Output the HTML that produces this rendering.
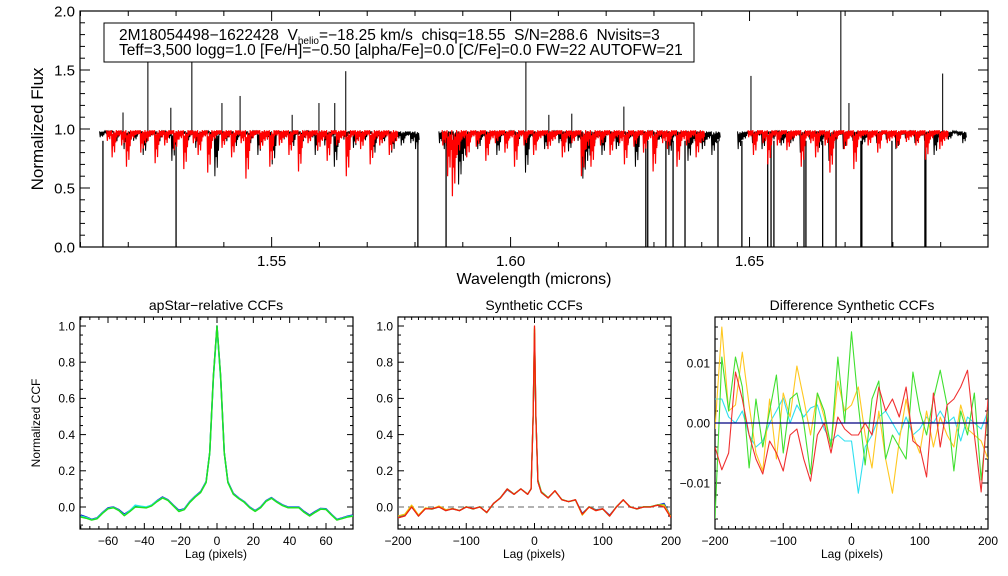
<!DOCTYPE html>
<html><head><meta charset="utf-8">
<style>
html,body{margin:0;padding:0;background:#fff;}
svg{display:block;font-family:"Liberation Sans",Arial,sans-serif;}
</style></head>
<body>
<svg id="fig" width="1008" height="576" viewBox="0 0 1008 576" xmlns="http://www.w3.org/2000/svg">
<rect width="1008" height="576" fill="#fff"/>
</svg>
<script>
// ---------- DATA: spectrum ----------
const chip1Start = 1.5145, chip2Start = 1.5855, chip3Start = 1.6480;
const chip1Black = [0.95,0.99,1.0,0.9,0.97,0.85,0.96,0.92,0.98,0.8,0.95,0.97,0.9,0.99,0.93,0.75,0.96,0.98,0.91,0.97,0.86,0.95,0.99,0.94,0.62,0.97,0.9,0.98,0.85,0.95,0.97,0.88,0.99,0.8,0.96,0.93,0.72,0.98,0.92,0.96,0.85,0.97,0.9,0.99,0.94,0.8,0.96,0.88,0.95,0.7,0.97,0.93,0.98,0.86,0.95,0.91,0.98,0.78,0.94,0.9,0.97,0.82,0.93,0.88,0.96,0.9,0.85];
const chip2Black = [0.9,0.85,0.96,0.8,0.55,0.75,0.92,0.97,0.85,0.95,0.9,0.98,0.8,0.96,0.93,0.99,0.87,0.97,0.65,0.95,0.9,0.98,0.85,0.94,0.99,0.9,0.96,0.83,0.97,0.92,0.6,0.75,0.88,0.95,0.8,0.97,0.9,0.85,0.98,0.88,0.95,0.7,0.97,0.9,0.99,0.85,0.93,0.96,0.8,0.95,0.92,0.98,0.75,0.9,0.95,0.85,0.93,0.8,0.9];
const chip3Black = [0.85,0.93,0.98,0.9,0.96,0.85,0.97,0.92,0.99,0.88,0.95,0.9,0.97,0.82,0.96,0.93,0.98,0.86,0.95,0.75,0.9,0.97,0.85,0.96,0.92,0.98,0.89,0.95,0.97,0.9,0.98,0.93,0.96,0.85,0.97,0.94,0.99,0.9,0.96,0.92,0.98,0.8,0.95,0.97,0.93,0.99,0.96,0.9];
const red1Start = 1.5160, red2Start = 1.5862, red3Start = 1.6502;
const chip1Red = [0.92,0.78,0.95,0.88,0.7,0.93,0.97,0.82,0.9,0.96,0.73,0.94,0.88,0.97,0.84,0.93,0.68,0.96,0.9,0.8,0.95,0.65,0.92,0.97,0.86,0.94,0.78,0.96,0.9,0.6,0.93,0.97,0.85,0.92,0.7,0.96,0.88,0.94,0.8,0.97,0.66,0.93,0.9,0.96,0.84,0.92,0.75,0.97,0.88,0.94,0.62,0.95,0.9,0.85,0.96,0.72,0.93,0.88,0.95,0.8,0.9];
const chip2Red = [0.88,0.62,0.45,0.8,0.93,0.78,0.95,0.87,0.97,0.75,0.93,0.9,0.96,0.82,0.94,0.7,0.95,0.88,0.97,0.8,0.93,0.96,0.85,0.92,0.97,0.78,0.94,0.9,0.96,0.62,0.85,0.7,0.93,0.88,0.96,0.8,0.94,0.9,0.72,0.95,0.87,0.96,0.82,0.93,0.66,0.95,0.9,0.85,0.96,0.7,0.92,0.88,0.95,0.78,0.9];
const chip3Red = [0.95,0.8,0.97,0.9,0.72,0.95,0.88,0.97,0.84,0.93,0.96,0.7,0.94,0.9,0.78,0.96,0.88,0.65,0.92,0.97,0.85,0.94,0.68,0.93,0.96,0.88,0.95,0.82,0.97,0.9,0.94,0.86,0.97,0.91,0.95,0.88,0.96,0.76,0.93,0.97,0.85,0.92];
const deepLines = [1.5147,1.5300,1.5806,1.5865,1.6283,1.6287,1.6325,1.6340,1.6365,1.6434,1.6484,1.6538,1.6545,1.6551,1.6614,1.6618,1.6653,1.6681,1.6733,1.6735,1.6798,1.6867,1.6869];
const spikeWaves = [1.5189,1.5241,1.5289,1.5333,1.5396,1.5434,1.5543,1.5599,1.5632,1.5655,1.6032,1.6080,1.6128,1.6237,1.6503,1.6691,1.6708,1.6904];
const spikeVals  = [1.14,1.70,1.18,1.62,1.22,1.28,1.12,1.22,1.22,1.49,1.65,1.12,1.13,1.19,1.45,2.0,1.22,1.47];

// ---------- DATA: apStar-relative CCFs ----------
const apLags = [-75,-72,-69,-66,-63,-60,-57,-54,-51,-48,-45,-42,-39,-36,-33,-30,-27,-24,-21,-18,-15,-12,-9,-6,-4,-2,0,2,4,6,9,12,15,18,21,24,27,30,33,36,39,42,45,48,51,54,57,60,63,66,69,72,75];
const apBlue  = [-0.045,-0.055,-0.068,-0.06,-0.03,-0.005,0.0,-0.015,-0.04,-0.02,0.005,0.002,-0.002,0.01,0.035,0.055,0.04,0.01,-0.018,-0.01,0.03,0.06,0.085,0.14,0.3,0.72,1.0,0.72,0.3,0.14,0.075,0.05,0.03,0.0,-0.02,0.0,0.035,0.052,0.03,0.012,0.0,0.0,0.0,-0.025,-0.045,-0.025,-0.008,-0.01,-0.04,-0.068,-0.06,-0.05,-0.045];
const apCyan  = [-0.05,-0.058,-0.07,-0.062,-0.032,-0.008,-0.002,-0.018,-0.045,-0.02,0.01,0.004,0.0,0.01,0.033,0.052,0.038,0.008,-0.022,-0.012,0.028,0.058,0.082,0.138,0.3,0.71,0.99,0.71,0.3,0.138,0.072,0.048,0.028,-0.002,-0.022,-0.002,0.033,0.05,0.028,0.01,-0.002,-0.002,-0.002,-0.028,-0.048,-0.028,-0.01,-0.012,-0.042,-0.07,-0.062,-0.052,-0.048];
const apGreen = [-0.055,-0.062,-0.072,-0.065,-0.035,-0.01,-0.004,-0.02,-0.048,-0.025,0.0,-0.002,-0.005,0.006,0.03,0.05,0.036,0.006,-0.025,-0.015,0.025,0.055,0.08,0.135,0.3,0.72,1.0,0.72,0.3,0.135,0.07,0.046,0.026,-0.004,-0.024,-0.004,0.031,0.048,0.026,0.008,-0.004,-0.004,-0.004,-0.03,-0.05,-0.03,-0.012,-0.014,-0.044,-0.072,-0.064,-0.055,-0.05];

// ---------- DATA: synthetic CCFs ----------
const synLags = [-200,-190,-180,-170,-160,-150,-140,-130,-120,-110,-100,-90,-80,-70,-60,-50,-40,-30,-20,-10,-5,-2,0,2,5,10,20,30,40,50,60,70,80,90,100,110,120,130,140,150,160,170,180,190,200];
const synBlue   = [-0.055,-0.045,0.0,-0.045,-0.01,-0.01,0.0,-0.015,-0.01,-0.02,0.0,-0.01,0.0,-0.03,0.02,0.05,0.095,0.07,0.1,0.07,0.1,0.5,0.96,0.5,0.14,0.08,0.05,0.09,0.04,0.03,0.04,-0.035,0.0,-0.015,-0.01,-0.045,0.0,0.04,0.0,-0.01,0.0,0.0,0.01,0.02,-0.055];
const synGreen  = [-0.06,-0.048,0.005,-0.05,-0.008,-0.012,0.002,-0.02,-0.008,-0.02,0.002,-0.012,0.002,-0.032,0.018,0.052,0.1,0.072,0.1,0.072,0.1,0.5,0.98,0.5,0.15,0.085,0.052,0.088,0.042,0.03,0.038,-0.04,0.002,-0.018,-0.012,-0.05,0.002,0.038,0.002,-0.012,0.002,0.002,0.012,0.012,-0.06];
const synYellow = [-0.05,-0.04,0.01,-0.045,-0.005,-0.01,0.005,-0.015,-0.01,-0.02,0.0,-0.01,0.0,-0.03,0.02,0.05,0.098,0.07,0.1,0.07,0.1,0.5,0.99,0.5,0.14,0.08,0.05,0.09,0.04,0.03,0.04,-0.045,0.0,-0.02,-0.01,-0.05,0.0,0.04,0.0,-0.01,0.0,0.0,0.01,0.01,-0.055];
const synRed    = [-0.06,-0.05,0.0,-0.05,-0.01,-0.01,0.0,-0.02,-0.01,-0.02,0.0,-0.01,0.0,-0.03,0.02,0.05,0.1,0.07,0.1,0.07,0.1,0.5,1.0,0.5,0.14,0.08,0.05,0.09,0.04,0.03,0.04,-0.04,0.0,-0.02,-0.01,-0.05,0.0,0.04,0.0,-0.01,0.0,0.0,0.01,0.0,-0.06];

// ---------- DATA: difference CCFs ----------
const difLags = [-200,-190,-180,-170,-160,-150,-140,-130,-120,-110,-100,-90,-80,-70,-60,-50,-40,-30,-20,-10,0,10,20,30,40,50,60,70,80,90,100,110,120,130,140,150,160,170,180,190,200];
const difCyan   = [0.004,0.004,0.001,0.0,0.002,-0.002,-0.004,-0.003,0.0,0.002,0.0042,0.0,0.003,0.001,0.0025,0.003,-0.001,-0.003,-0.002,-0.003,-0.003,-0.0117,-0.004,-0.002,0.001,0.002,0.0,-0.002,0.001,-0.002,-0.001,0.001,0.0,0.002,0.0,0.001,-0.003,0.001,0.0,-0.001,0.002];
const difYellow = [-0.001,0.016,0.002,0.003,0.0118,0.003,-0.005,-0.008,0.004,-0.006,0.005,0.001,0.0095,0.004,-0.002,0.005,0.001,-0.004,0.007,0.002,0.003,0.006,-0.002,-0.0075,0.002,-0.006,-0.0117,-0.003,0.004,-0.002,-0.005,0.002,-0.004,0.001,-0.002,-0.004,0.003,-0.001,-0.002,-0.003,-0.006];
const difGreen  = [-0.016,0.011,0.002,0.011,0.006,-0.0075,0.004,-0.004,0.002,0.008,-0.005,0.004,0.005,0.0,-0.0085,0.005,0.002,-0.004,0.011,0.0,0.0152,0.003,-0.007,0.004,0.007,-0.006,-0.002,-0.004,-0.006,0.0085,0.002,-0.002,0.004,0.0088,0.003,-0.008,0.002,-0.002,0.005,-0.0095,0.002];
const difRed    = [-0.004,-0.0078,-0.005,0.0085,0.004,-0.002,-0.006,-0.0085,-0.003,-0.005,-0.008,-0.002,-0.001,-0.006,-0.0097,-0.002,0.0,-0.005,0.001,-0.001,-0.002,-0.002,0.0,-0.002,0.006,0.002,0.004,0.001,0.006,-0.003,-0.004,-0.009,0.005,-0.004,0.003,0.004,0.006,0.0088,-0.002,-0.0115,0.004];

// ---------- drawing helpers ----------
const NS = "http://www.w3.org/2000/svg";
const svg = document.getElementById('fig');
function mk(tag, attrs, parent){
  const e = document.createElementNS(NS, tag);
  for (const k in attrs) e.setAttribute(k, attrs[k]);
  (parent||svg).appendChild(e);
  return e;
}
function lin(d0,d1,r0,r1){ return v => r0 + (v-d0)*(r1-r0)/(d1-d0); }

function axes(box, xs, ys, xmaj, xmin, ymaj, ymin, xfmt, yfmt, fs, majLen, minLen, showYLabels){
  const g = mk('g', {});
  
  
  mk('rect', {x:box.x0, y:box.y0, width:box.x1-box.x0, height:box.y1-box.y0, fill:'none', stroke:'#000', 'stroke-width':1.2}, g);
  const eps = 1e-9;
  for (let v = Math.ceil(box.dx0/xmin - eps)*xmin; v <= box.dx1 + eps; v += xmin){
    const x = xs(v);
    const isMaj = Math.abs(v/xmaj - Math.round(v/xmaj)) < 1e-6;
    const L = isMaj ? majLen : minLen;
    mk('line', {x1:x, x2:x, y1:box.y1, y2:box.y1-L, stroke:'#000','stroke-width':1}, g);
    mk('line', {x1:x, x2:x, y1:box.y0, y2:box.y0+L, stroke:'#000','stroke-width':1}, g);
    if (isMaj){
      const t = mk('text', {x:x, y:box.y1+fs+4, 'font-size':fs, 'text-anchor':'middle', fill:'#000'}, g);
      t.textContent = xfmt(v);
      
      
    }
  }
  for (let v = Math.ceil(box.dy0/ymin - eps)*ymin; v <= box.dy1 + eps; v += ymin){
    const y = ys(v);
    const isMaj = Math.abs(v/ymaj - Math.round(v/ymaj)) < 1e-6;
    const L = isMaj ? majLen : minLen;
    mk('line', {x1:box.x0, x2:box.x0+L, y1:y, y2:y, stroke:'#000','stroke-width':1}, g);
    mk('line', {x1:box.x1, x2:box.x1-L, y1:y, y2:y, stroke:'#000','stroke-width':1}, g);
    if (isMaj && showYLabels){
      const t = mk('text', {x:box.x0-5, y:y+fs*0.36, 'font-size':fs, 'text-anchor':'end', fill:'#000'}, g);
      t.textContent = yfmt(v);
      
      
    }
  }
}
function minus(s){ return s.replace('-', '\u2212'); }
function series(xsArr, ysArr, xs, ys, color, name, clipId, width){
  let d = '';
  for (let i=0;i<xsArr.length;i++) d += (i?'L':'M') + xs(xsArr[i]).toFixed(2) + ',' + ys(ysArr[i]).toFixed(2);
  const p = mk('path', {d:d, fill:'none', stroke:color, 'stroke-width':width||1.2, 'clip-path':'url(#'+clipId+')', 'stroke-linejoin':'round'});
  
  
  return p;
}
function clip(id, box){
  const defs = svg.querySelector('defs') || mk('defs', {});
  const c = mk('clipPath', {id:id}, defs);
  mk('rect', {x:box.x0, y:box.y0, width:box.x1-box.x0, height:box.y1-box.y0}, c);
}
function label(txt, x, y, fs, name, rot){
  const t = mk('text', {x:x, y:y, 'font-size':fs, 'text-anchor':'middle', fill:'#000'});
  if (rot) t.setAttribute('transform', 'rotate(-90 '+x+' '+y+')');
  t.textContent = txt;
  
  
}

// ---------- top panel: spectrum ----------
const topBox = {x0:80, x1:988, y0:11, y1:247, dx0:1.5099, dx1:1.6999, dy0:0, dy1:2.0};
const sx = lin(topBox.dx0, topBox.dx1, topBox.x0, topBox.x1);
const sy = lin(0, 2, topBox.y1, topBox.y0);
clip('clipTop', topBox);
axes(topBox, sx, sy, 0.05, 0.01, 0.5, 0.1, v=>v.toFixed(2), v=>v.toFixed(1), 15, 10, 5, true);

// dense jagged rendering: each sample is a cluster of narrow dips
const dipFracs = [0.0, 1.0, 0.15, 0.55, 0.05, 0.8, 0.1, 0.4];
function spectrumPath(start, vals, step, color, name, cont, w){
  let d = '';
  const px = sx(start+step) - sx(start);
  for (let i=0;i<vals.length;i++){
    const x0 = sx(start + i*step) - px/2;
    const depth = cont - vals[i];
    for (let k=0;k<dipFracs.length;k++){
      const x = x0 + px*k/dipFracs.length;
      const y = sy(cont - depth*dipFracs[k] - 0.02*(k%2));
      d += ((i||k)?'L':'M') + x.toFixed(2) + ',' + y.toFixed(2);
    }
  }
  const p = mk('path', {d:d, fill:'none', stroke:color, 'stroke-width':w, 'clip-path':'url(#clipTop)'});
  
  
}
spectrumPath(chip1Start, chip1Black, 0.001, '#000', 'observed-spectrum-chip1', 0.98, 1);
spectrumPath(chip2Start, chip2Black, 0.001, '#000', 'observed-spectrum-chip2', 0.98, 1);
spectrumPath(chip3Start, chip3Black, 0.001, '#000', 'observed-spectrum-chip3', 0.98, 1);
deepLines.forEach(w=>{
  const l = mk('line', {x1:sx(w), x2:sx(w), y1:sy(0.9), y2:sy(0), stroke:'#000','stroke-width':1.3,'clip-path':'url(#clipTop)'});
  
  
});
spikeWaves.forEach((w,i)=>{
  const l = mk('line', {x1:sx(w), x2:sx(w), y1:sy(0.95), y2:sy(spikeVals[i]), stroke:'#222','stroke-width':1.2,'clip-path':'url(#clipTop)'});
  
  
});
spectrumPath(red1Start, chip1Red, 0.001, '#ff0000', 'model-spectrum-chip1', 0.99, 1.2);
spectrumPath(red2Start, chip2Red, 0.001, '#ff0000', 'model-spectrum-chip2', 0.99, 1.2);
spectrumPath(red3Start, chip3Red, 0.001, '#ff0000', 'model-spectrum-chip3', 0.99, 1.2);

// legend box
const lg = mk('g', {});


mk('rect', {x:104, y:23, width:590, height:39, fill:'#fff', stroke:'#000', 'stroke-width':1}, lg);
const t1 = mk('text', {x:119, y:40, 'font-size':15.5, fill:'#000', style:'white-space:pre'}, lg);
const t1a = mk('tspan', {}, t1); t1a.textContent = '2M18054498\u22121622428  V';
const t1b = mk('tspan', {'font-size':10, dy:4}, t1); t1b.textContent = 'helio';
const t1c = mk('tspan', {dy:-4}, t1); t1c.textContent = '=\u221218.25 km/s  chisq=18.55  S/N=288.6  Nvisits=3';
const t2 = mk('text', {x:119, y:55, 'font-size':15.5, fill:'#000'}, lg);
t2.textContent = 'Teff=3,500 logg=1.0 [Fe/H]=\u22120.50 [alpha/Fe]=0.0 [C/Fe]=0.0 FW=22 AUTOFW=21';

label('Normalized Flux', 43, 129, 17, 'y-axis-title', true);
label('Wavelength (microns)', 534, 284, 16, 'x-axis-title');

// ---------- panel 1 ----------
const p1 = {x0:80, x1:353, y0:317, y1:529, dx0:-75.4, dx1:74.9, dy0:-0.122, dy1:1.05};
const p1x = lin(-60, 60, 108, 326), p1y = lin(0, 1, 507, 326);
clip('clipP1', p1);
axes(p1, p1x, p1y, 20, 5, 0.2, 0.05, v=>minus(String(Math.round(v))), v=>v.toFixed(1), 12, 6, 3, true);
series(apLags, apBlue, p1x, p1y, '#1010c0', 'ccf-blue', 'clipP1', 1.5);
series(apLags, apCyan, p1x, p1y, '#20e8e8', 'ccf-cyan', 'clipP1', 1.5);
series(apLags, apGreen, p1x, p1y, '#20e020', 'ccf-green', 'clipP1', 1.5);
label('apStar\u2212relative CCFs', 216, 310, 14, 'panel1-title');
label('Lag (pixels)', 216, 558, 12, 'panel1-x-title');
label('Normalized CCF', 40, 423, 12, 'panel1-y-title', true);

// ---------- panel 2 ----------
const p2 = {x0:398, x1:671, y0:317, y1:529, dx0:-200, dx1:200, dy0:-0.122, dy1:1.05};
const p2x = lin(-200, 200, 398, 671), p2y = p1y;
clip('clipP2', p2);
axes(p2, p2x, p2y, 100, 10, 0.2, 0.05, v=>minus(String(Math.round(v))), v=>v.toFixed(1), 12, 6, 3, true);
const zl = mk('line', {x1:p2x(-200), x2:p2x(200), y1:p2y(0), y2:p2y(0), stroke:'#666', 'stroke-width':1, 'stroke-dasharray':'6,4'});


series(synLags, synBlue, p2x, p2y, '#2040d0', 'syn-ccf-blue', 'clipP2', 1.3);
series(synLags, synGreen, p2x, p2y, '#30d030', 'syn-ccf-green', 'clipP2', 1.3);
series(synLags, synYellow, p2x, p2y, '#f0c000', 'syn-ccf-yellow', 'clipP2', 1.3);
series(synLags, synRed, p2x, p2y, '#f02010', 'syn-ccf-red', 'clipP2', 1.3);
label('Synthetic CCFs', 534, 310, 14, 'panel2-title');
label('Lag (pixels)', 534, 558, 12, 'panel2-x-title');

// ---------- panel 3 ----------
const p3 = {x0:715, x1:988, y0:317, y1:529, dx0:-200, dx1:200, dy0:-0.0177, dy1:0.0177};
const p3x = lin(-200, 200, 715, 988), p3y = lin(0, 0.01, 423, 363);
clip('clipP3', p3);
axes(p3, p3x, p3y, 100, 10, 0.01, 0.002, v=>minus(String(Math.round(v))), v=>minus(v.toFixed(2)), 12, 6, 3, true);
series(difLags, difCyan, p3x, p3y, '#30e0f0', 'diff-cyan', 'clipP3', 1.1);
series(difLags, difYellow, p3x, p3y, '#ffc820', 'diff-yellow', 'clipP3', 1.1);
series(difLags, difGreen, p3x, p3y, '#40e030', 'diff-green', 'clipP3', 1.1);
series(difLags, difRed, p3x, p3y, '#f03030', 'diff-red', 'clipP3', 1.1);
const z3 = mk('line', {x1:p3x(-200), x2:p3x(200), y1:p3y(0), y2:p3y(0), stroke:'#000080', 'stroke-width':1.2});


label('Difference Synthetic CCFs', 852, 310, 14, 'panel3-title');
label('Lag (pixels)', 852, 558, 12, 'panel3-x-title');
</script>
</body></html>
